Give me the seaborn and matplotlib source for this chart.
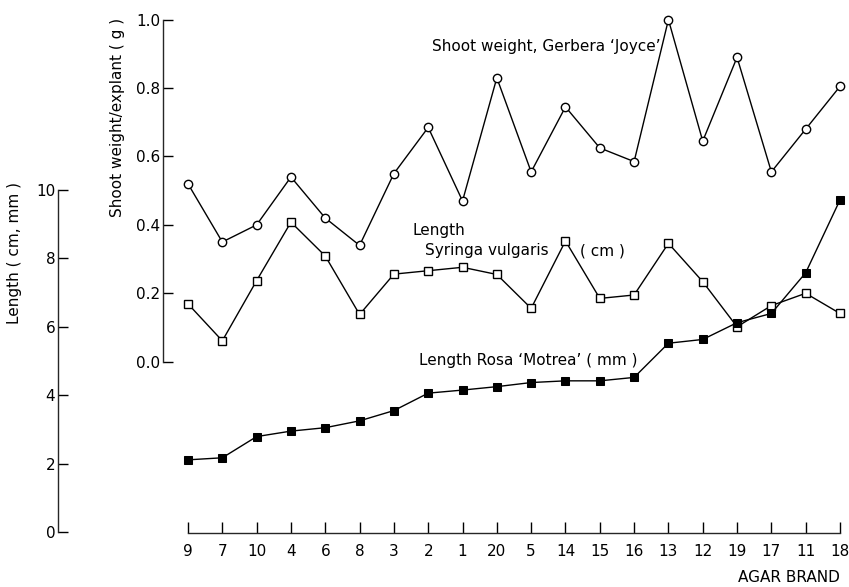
import matplotlib
matplotlib.use("Agg")
import matplotlib.pyplot as plt
import seaborn as sns
import numpy as np
import pandas as pd

brands = ["9", "7", "10", "4", "6", "8", "3", "2", "1", "20",
          "5", "14", "15", "16", "13", "12", "19", "17", "11", "18"]
shoot_weight_gerbera = [0.52, 0.35, 0.40, 0.54, 0.42, 0.34, 0.55, 0.685, 0.47, 0.83,
                        0.555, 0.745, 0.625, 0.585, 1.00, 0.645, 0.89, 0.555, 0.68, 0.805]
length_syringa_cm = [6.67, 5.59, 7.35, 9.06, 8.07, 6.36, 7.54, 7.64, 7.74, 7.53,
                     6.54, 8.51, 6.83, 6.93, 8.44, 7.32, 6.00, 6.62, 6.98, 6.39]
length_rosa_mm = [2.11, 2.17, 2.79, 2.95, 3.05, 3.25, 3.55, 4.06, 4.15, 4.25,
                  4.37, 4.42, 4.42, 4.52, 5.52, 5.63, 6.12, 6.39, 7.58, 9.71]
length_ticks = [0, 2, 4, 6, 8, 10]
weight_ticks = [0.0, 0.2, 0.4, 0.6, 0.8, 1.0]
weight_tick_labels = ["0.0", "0.2", "0.4", "0.6", "0.8", "1.0"]

df = pd.DataFrame({"brand": brands, "gerbera": shoot_weight_gerbera,
                   "syringa": length_syringa_cm, "rosa": length_rosa_mm})

sns.set_theme(style="ticks")
plt.rcParams["font.family"] = ["DejaVu Sans"]
plt.rcParams["axes.linewidth"] = 1.0

W, H = 849, 587
fig = plt.figure(figsize=(W / 100, H / 100), dpi=100)
fig.patch.set_facecolor("white")

# layout in pixels
ax_left_px, ax_right_px = 58, 849
ax_bottom_px, ax_top_px = 533, 3
x0_px, x19_px = 188, 840
s = (x19_px - x0_px) / 19.0
L0_px, L10_px = 532, 190
ppu = (L0_px - L10_px) / 10.0

ax = fig.add_axes([ax_left_px / W, 1 - ax_bottom_px / H,
                   (ax_right_px - ax_left_px) / W, (ax_bottom_px - ax_top_px) / H])
ax.set_facecolor("white")
ax2 = ax.twinx()

lw = 1.0
sns.pointplot(data=df, x="brand", y="syringa", order=brands, ax=ax, color="black",
              marker="s", markersize=5.5, markerfacecolor="white", markeredgewidth=1.0,
              linewidth=lw, clip_on=False, zorder=3)
sns.pointplot(data=df, x="brand", y="rosa", order=brands, ax=ax, color="black",
              marker="s", markersize=5.5, markerfacecolor="black",
              linewidth=lw, clip_on=False, zorder=3)
sns.pointplot(data=df, x="brand", y="gerbera", order=brands, ax=ax2, color="black",
              marker="o", markersize=6, markerfacecolor="white", markeredgewidth=1.0,
              linewidth=lw, clip_on=False, zorder=3)

xlo = (ax_left_px - x0_px) / s
xhi = (ax_right_px - x0_px) / s
ax.set_xlim(xlo, xhi)
ax2.set_xlim(xlo, xhi)
ylo = (L0_px - ax_bottom_px) / ppu
yhi = (L0_px - ax_top_px) / ppu
ax.set_ylim(ylo, yhi)
w0_L = 4.98
ax2.set_ylim((ylo - w0_L) / 10.0, (yhi - w0_L) / 10.0)

for a in (ax, ax2):
    a.set_xlabel("")
    a.set_ylabel("")
    a.grid(False)
    if a.get_legend():
        a.get_legend().remove()

# main axis spines
ax.spines["top"].set_visible(False)
ax.spines["right"].set_visible(False)
ax.spines["left"].set_bounds(0, 10)
ax.spines["bottom"].set_bounds(0, 19)
ax.set_yticks(length_ticks)
ax.set_yticklabels([str(t) for t in length_ticks])
ax.tick_params(axis="y", direction="in", length=7, width=1.0, pad=2,
               labelsize=11, colors="black")
ax.set_xticks(range(len(brands)))
ax.set_xticklabels(brands)
ax.tick_params(axis="x", direction="in", length=8, width=1.0, pad=8,
               labelsize=11, colors="black")

# weight axis
for sp in ("top", "bottom", "right"):
    ax2.spines[sp].set_visible(False)
ax2.spines["left"].set_visible(True)
ax2.spines["left"].set_position(("axes", (163 - ax_left_px) / (ax_right_px - ax_left_px)))
ax2.spines["left"].set_bounds(0, 1)
ax2.yaxis.set_ticks_position("left")
ax2.set_yticks(weight_ticks)
ax2.set_yticklabels(weight_tick_labels)
ax2.tick_params(axis="y", direction="in", length=7, width=1.0, pad=2,
                labelsize=11, colors="black")
ax2.tick_params(axis="x", bottom=False, labelbottom=False)

def ftext(xp, yp, t, **kw):
    fig.text(xp / W, 1 - yp / H, t, color="black", **kw)

fs = 11
ftext(15, 253, "Length ( cm, mm )", rotation=90, ha="center", va="center", fontsize=fs)
ftext(118, 117, "Shoot weight/explant ( g )", rotation=90, ha="center", va="center", fontsize=fs)
ftext(432, 47, "Shoot weight, Gerbera \u2018Joyce\u2019", ha="left", va="center", fontsize=fs)
ftext(412, 230, "Length", ha="left", va="center", fontsize=fs)
ftext(425, 251, "Syringa vulgaris", ha="left", va="center", fontsize=fs)
ftext(580, 251, "( cm )", ha="left", va="center", fontsize=fs)
ftext(419, 361, "Length Rosa \u2018Motrea\u2019 ( mm )", ha="left", va="center", fontsize=fs)
ftext(840, 577, "AGAR BRAND", ha="right", va="center", fontsize=fs)

fig.savefig("out.png", dpi=100, facecolor="white")
